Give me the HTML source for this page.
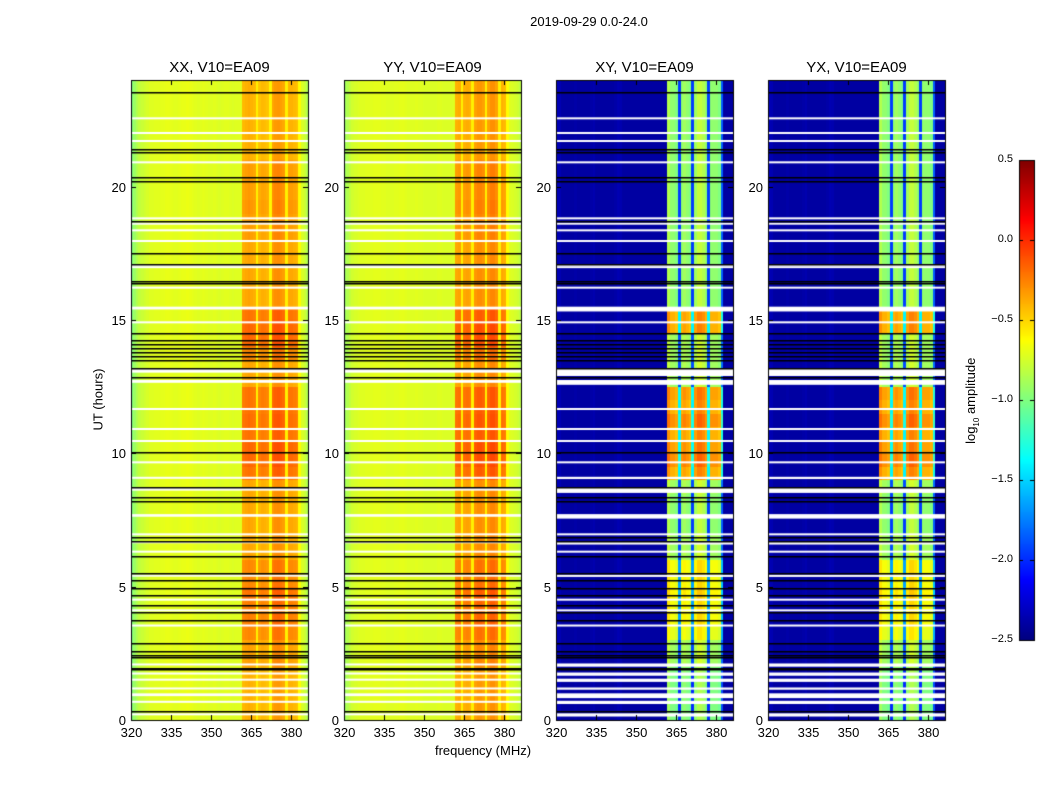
<!DOCTYPE html>
<html><head><meta charset="utf-8"><style>
body{margin:0;background:#fff;font-family:"Liberation Sans",sans-serif;}
#root{position:relative;width:1050px;height:800px;overflow:hidden;background:#fff;}
.t{position:absolute;white-space:nowrap;color:#000;}
canvas{position:absolute;left:0;top:0;}
</style></head><body>
<div id="root">
<canvas id="cv" width="1050" height="800"></canvas>
<div class="t" style="left:489px;top:14px;width:200px;text-align:center;font-size:13px;">2019-09-29 0.0-24.0</div>
<div class="t" style="left:48px;top:392px;width:100px;text-align:center;font-size:13px;transform:rotate(-90deg);">UT (hours)</div>
<div class="t" style="left:383px;top:743px;width:200px;text-align:center;font-size:13px;">frequency (MHz)</div>
<div class="t" style="left:912px;top:392px;width:120px;text-align:center;font-size:13px;transform:rotate(-90deg);">log<sub style="font-size:8px">10</sub> amplitude</div>
</div>
<script>
// ---- data ----
const freqStart = 320, freqEnd = 386.4, tMax = 24;
const xTicks = [320,335,350,365,380];
const yTicks = [0,5,10,15,20];
const cbTicks = [0.5,0.0,-0.5,-1.0,-1.5,-2.0,-2.5];
const cbLabels = ["0.5","0.0","\u22120.5","\u22121.0","\u22121.5","\u22122.0","\u22122.5"];
const titles = ["XX, V10=EA09","YY, V10=EA09","XY, V10=EA09","YX, V10=EA09"];
// channel profiles (1 MHz bins from 320 to 386), log10 amplitude
const profXX = [-1.0,-0.92,-0.85,-0.8,-0.78,-0.76,-0.74,-0.72,-0.72,-0.71,-0.71,-0.7,-0.7,-0.69,-0.69,-0.7,-0.71,-0.71,-0.7,-0.69,-0.69,-0.68,-0.69,-0.7,-0.71,-0.72,-0.71,-0.7,-0.71,-0.72,-0.72,-0.71,-0.72,-0.73,-0.72,-0.71,-0.71,-0.72,-0.73,-0.72,-0.72,-0.71,-0.42,-0.4,-0.38,-0.4,-0.42,-0.58,-0.45,-0.42,-0.43,-0.45,-0.6,-0.36,-0.33,-0.32,-0.34,-0.37,-0.58,-0.4,-0.4,-0.42,-0.44,-0.62,-0.74,-0.78,-0.85];
const profYY = [-0.92,-0.85,-0.8,-0.76,-0.74,-0.73,-0.72,-0.72,-0.71,-0.71,-0.71,-0.7,-0.7,-0.7,-0.71,-0.71,-0.72,-0.72,-0.72,-0.71,-0.71,-0.7,-0.7,-0.71,-0.72,-0.72,-0.72,-0.71,-0.72,-0.72,-0.73,-0.73,-0.73,-0.73,-0.73,-0.72,-0.72,-0.73,-0.73,-0.73,-0.73,-0.72,-0.4,-0.38,-0.58,-0.4,-0.38,-0.4,-0.58,-0.35,-0.32,-0.32,-0.35,-0.58,-0.35,-0.3,-0.3,-0.35,-0.58,-0.4,-0.42,-0.62,-0.72,-0.73,-0.75,-0.77,-0.82];
const profXY = [-2.3,-2.35,-2.4,-2.4,-2.4,-2.4,-2.4,-2.38,-2.4,-2.4,-2.4,-2.4,-2.4,-2.38,-2.36,-2.4,-2.4,-2.4,-2.4,-2.4,-2.4,-2.4,-2.38,-2.35,-2.36,-2.4,-2.4,-2.4,-2.4,-2.4,-2.4,-2.4,-2.4,-2.4,-2.4,-2.4,-2.4,-2.4,-2.4,-2.4,-2.4,-2.4,-0.9,-1.0,-1.0,-1.05,-2.0,-1.0,-0.95,-1.0,-1.05,-2.0,-0.95,-0.85,-0.85,-0.9,-1.0,-2.0,-1.0,-1.0,-1.0,-1.05,-1.9,-2.4,-2.4,-2.4,-2.4];
const profYX = profXY;
// half-hour boosts of the band (index 0 = 0.0-0.5 h)
const boostXX = [0,0,0,0,0.05,0.05,0.12,0.15,0.15,0.18,0.12,0.12,0.03,0.03,0.03,0.03,0.03,0.03,0.18,0.22,0.22,0.18,0.2,0.18,0.18,0.03,0.03,0.12,0.22,0.22,0.18,0.03,0.03,0.03,0.03,0.03,0.06,0.06,0.08,0.06,0.06,0.06,0.0,0.0,0.0,0.0,0.0,0.0];
const boostXY = [0,0,0,0,0.1,0.1,0.3,0.35,0.35,0.4,0.35,0.35,0.1,0.1,0.05,0.05,0.05,0.1,0.6,0.7,0.65,0.6,0.7,0.6,0.65,0.1,0.1,0.1,0.1,0.6,0.6,0.05,0.05,0.05,0.05,0.05,0.05,0.05,0.05,0.05,0.05,0.05,0.05,0.05,0.05,0.05,0.05,0.05];
// flagged rows (hours): white gaps [start,end] and black lines
const whiteRows = [[0.15,0.25],[0.62,0.72],[0.85,1.0],[1.15,1.22],[1.45,1.55],[1.68,1.78],[2.02,2.12],[3.52,3.58],[4.1,4.15],[4.5,4.55],[5.38,5.45],[6.3,6.35],[6.6,6.7],[6.95,7.0],[7.58,7.72],[8.55,8.72],[9.05,9.12],[9.65,9.7],[10.45,10.5],[10.9,10.95],[11.65,11.7],[12.6,12.75],[12.95,13.2],[15.35,15.5],[14.9,14.95],[16.2,16.25],[16.98,17.02],[17.05,17.1],[17.95,18.0],[18.35,18.4],[18.6,18.65],[18.8,18.85],[20.9,20.95],[21.7,21.75],[22.0,22.05],[22.55,22.6]];
const blackRows = [0.35,1.9,1.95,2.35,2.45,2.6,2.9,3.75,4.05,4.3,4.7,4.95,5.25,5.5,6.15,6.7,6.85,8.2,8.35,8.75,10.05,12.85,13.2,13.5,13.65,13.8,13.95,14.1,14.25,14.5,16.4,16.45,17.1,17.5,18.7,20.2,20.35,21.3,21.4,23.55];

// ---- geometry ----
const panelsX = [131,344,556,768], pw = 177, topY = 80, botY = 720;
const profs = [profXX, profYY, profXY, profYX];
const boosts = [boostXX, boostXX, boostXY, boostXY];
const xs = (p,f)=>panelsX[p] + (f-freqStart)/(freqEnd-freqStart)*pw;
const ys = h=>botY - h/tMax*(botY-topY);
function jet(v){
  let t=Math.max(0,Math.min(1,(v+2.5)/3));
  const c=x=>Math.round(255*Math.max(0,Math.min(1,x)));
  return `rgb(${c(1.5-Math.abs(4*t-3))},${c(1.5-Math.abs(4*t-2))},${c(1.5-Math.abs(4*t-1))})`;
}
const ctx = document.getElementById('cv').getContext('2d');
const root = document.getElementById('root');
function label(txt,x,y,w,align,size,name){
  const d=document.createElement('div');d.className='t';
  
  
  d.style.cssText=`left:${x}px;top:${y}px;width:${w}px;text-align:${align};font-size:${size}px;`;
  d.textContent=txt;root.appendChild(d);
}
for(let p=0;p<4;p++){
  const prof=profs[p], boost=boosts[p];
  const bg = p<2 ? -0.72 : -2.4;
  for(let i=0;i<prof.length;i++){
    const f0=freqStart+i, f1=Math.min(freqEnd,f0+1);
    const inBand = prof[i] > bg + 0.2;
    for(let k=0;k<boost.length;k++){
      const v = prof[i] + (inBand ? boost[k] : 0);
      ctx.fillStyle=jet(v);
      const x0=xs(p,f0), x1=xs(p,f1), y0=ys((k+1)/2), y1=ys(k/2);
      ctx.fillRect(Math.floor(x0),Math.floor(y0),Math.ceil(x1)-Math.floor(x0),Math.ceil(y1)-Math.floor(y0));
    }
  }
  ctx.fillStyle='#fff';
  whiteRows.forEach(r=>{const y0=ys(r[1]),y1=ys(r[0]);ctx.fillRect(panelsX[p],y0,pw,Math.max(2,(y1-y0)*(p<2?0.7:1.2)));});
  ctx.fillStyle='#000';
  blackRows.forEach(h=>{ctx.fillRect(panelsX[p],Math.round(ys(h)),pw,1.5);});
  ctx.strokeStyle='#000';ctx.lineWidth=1;
  ctx.strokeRect(panelsX[p]+0.5,topY+0.5,pw,botY-topY);
  xTicks.forEach(t=>{const x=Math.round(xs(p,t))+0.5;ctx.beginPath();ctx.moveTo(x,botY);ctx.lineTo(x,botY-5);ctx.moveTo(x,topY);ctx.lineTo(x,topY+5);ctx.stroke();
    label(String(t),x-20,botY+5,40,'center',13,'x-tick-label');});
  yTicks.forEach(t=>{const y=Math.round(ys(t))+0.5;ctx.beginPath();ctx.moveTo(panelsX[p],y);ctx.lineTo(panelsX[p]+5,y);ctx.moveTo(panelsX[p]+pw,y);ctx.lineTo(panelsX[p]+pw-5,y);ctx.stroke();
    label(String(t),panelsX[p]-45,y-8,40,'right',13,'y-tick-label');});
  label(titles[p],panelsX[p]-10,59,pw+20,'center',15,'panel-title');
}
const cbX=1019, cbW=15, cbTop=160, cbBot=640;
for(let y=cbTop;y<cbBot;y++){const v=0.5-(y-cbTop+0.5)/(cbBot-cbTop)*3;ctx.fillStyle=jet(v);ctx.fillRect(cbX,y,cbW,1);}
ctx.strokeStyle='#000';ctx.strokeRect(cbX+0.5,cbTop+0.5,cbW,cbBot-cbTop);
cbTicks.forEach((t,i)=>{const y=Math.round(cbBot-(t+2.5)/3*(cbBot-cbTop))+0.5;ctx.beginPath();ctx.moveTo(cbX,y);ctx.lineTo(cbX+4,y);ctx.moveTo(cbX+cbW,y);ctx.lineTo(cbX+cbW-4,y);ctx.stroke();
  label(cbLabels[i],963,y-8,50,'right',11,'colorbar-tick-label');});
</script>
</body></html>
